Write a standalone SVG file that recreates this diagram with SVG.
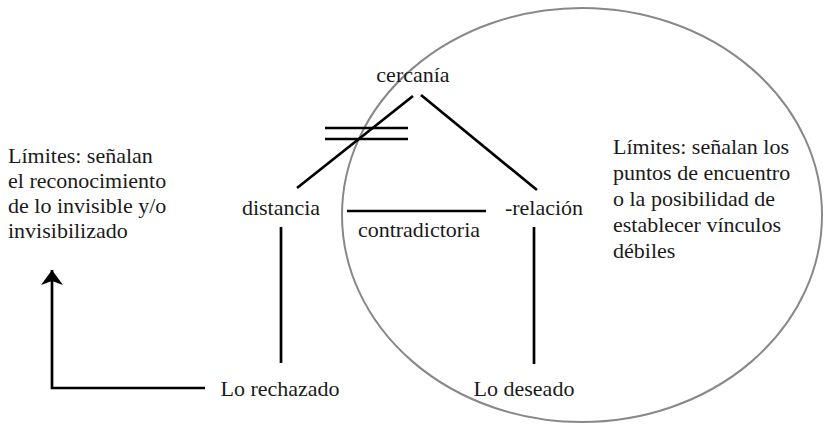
<svg xmlns="http://www.w3.org/2000/svg" width="824" height="427" viewBox="0 0 824 427">
<style>
text{font-family:"Liberation Serif","Times New Roman",serif;font-size:22px;fill:#1a1a1a}
.ln{stroke:#000;stroke-width:2.7;fill:none}
.mid{text-anchor:middle}
</style>
<defs>
<marker id="ah" viewBox="0 0 16 24" refX="15" refY="12" markerWidth="16" markerHeight="24" markerUnits="userSpaceOnUse" orient="auto">
<path d="M0,1 L15,12 L0,23 L4,12 Z" fill="#000"/>
</marker>
</defs>
<rect width="824" height="427" fill="#fff"/>
<g id="region">
<ellipse cx="582" cy="215" rx="240" ry="207" fill="none" stroke="#888" stroke-width="2"/>
</g>
<g id="connectors">
<line class="ln" x1="413" y1="96" x2="297" y2="188"/>
<line class="ln" x1="421" y1="95" x2="537" y2="190"/>
<line class="ln" x1="325" y1="128" x2="408" y2="128"/>
<line class="ln" x1="325" y1="139" x2="408" y2="139"/>
<line class="ln" x1="347" y1="211" x2="486" y2="211"/>
<line class="ln" x1="281" y1="227" x2="281" y2="363"/>
<line class="ln" x1="534" y1="227" x2="534" y2="364"/>
<path class="ln" d="M205,388 H52 V270" marker-end="url(#ah)"/>
</g>
<g id="cercania"><text class="mid" x="413" y="82">cercanía</text></g>
<g id="distancia"><text class="mid" x="281" y="215">distancia</text></g>
<g id="relacion"><text class="mid" x="544" y="215">-relación</text></g>
<g id="contradictoria"><text class="mid" x="419" y="237">contradictoria</text></g>
<g id="rechazado"><text class="mid" x="280" y="396">Lo rechazado</text></g>
<g id="deseado"><text class="mid" x="524" y="396">Lo deseado</text></g>
<g id="limites-izq">
<text x="8" y="163">Límites: señalan</text>
<text x="8" y="188">el reconocimiento</text>
<text x="8" y="213">de lo invisible y/o</text>
<text x="8" y="238">invisibilizado</text>
</g>
<g id="limites-der">
<text x="613" y="154">Límites: señalan los</text>
<text x="613" y="180">puntos de encuentro</text>
<text x="613" y="206">o la posibilidad de</text>
<text x="613" y="232">establecer vínculos</text>
<text x="613" y="258">débiles</text>
</g>
</svg>
